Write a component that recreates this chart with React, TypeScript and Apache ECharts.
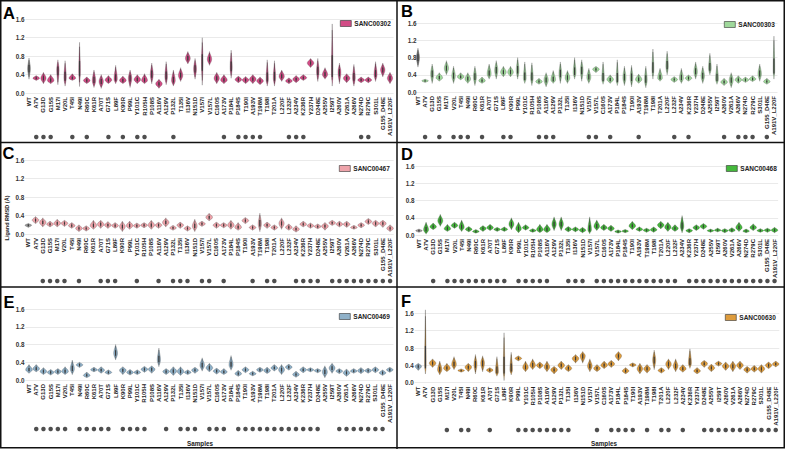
import React, { useEffect, useRef } from 'react';
import * as echarts from 'echarts';

const categories = ['WT','A7V','G13D','G15S','M17I','V20L','T45I','N49I','R60C','K61R','A70T','G71S','L89F','K90R','P99L','Y101C','R105H','P108S','A116V','A129V','P132L','T135I','I136V','N151D','V157I','V157L','C160S','A173V','P184L','P184S','T190I','A193V','T198M','T198I','T201A','L220F','L232F','A234V','K236R','Y237H','D248E','A255V','I259T','A260V','V261A','A266V','N274D','R279C','S301L','G155_D48E','A191V_L220F'];

const yTicks = [0, 0.4, 0.8, 1.2, 1.6];

// Panel A – SANC00302
const medA = [.53,.32,.32,.27,.50,.33,.32,.48,.27,.27,.25,.28,.30,.27,.32,.29,.27,.40,.20,.35,.27,.38,.75,.52,.65,.73,.32,.28,.55,.29,.28,.30,.26,.30,.33,.36,.26,.30,.33,.65,.47,.40,.45,.45,.32,.33,.28,.28,.40,.50,.32];
const loA = [.30,.27,.20,.20,.18,.15,.27,.14,.20,.12,.10,.20,.20,.20,.12,.20,.20,.20,.10,.18,.15,.25,.63,.30,.17,.60,.20,.20,.32,.22,.20,.20,.18,.15,.15,.25,.20,.22,.27,.55,.25,.30,.15,.20,.22,.15,.22,.22,.25,.35,.20];
const hiA = [.76,.38,.45,.40,.72,.70,.42,1.10,.35,.50,.40,.38,.60,.37,.50,.40,.42,.65,.30,.68,.50,.55,.90,.75,1.20,.90,.45,.40,.93,.37,.36,.40,.35,.72,.70,.50,.33,.38,.40,.75,.75,.55,1.50,.65,.42,.62,.35,.35,.68,.65,.45];
const dotsA = ['A7V','G13D','G15S','T45I','R60C','G71S','K90R','Y101C','R105H','P132L','A173V','P184S','T190I','A193V','T198M','L232F','A234V','K236R','N274D','R279C'];

// Panel B – SANC00303
const medB = [.80,.26,.42,.33,.55,.37,.35,.30,.35,.26,.42,.50,.46,.46,.50,.32,.33,.24,.28,.28,.42,.33,.45,.50,.34,.53,.30,.29,.28,.33,.33,.29,.28,.53,.32,.60,.29,.32,.32,.47,.37,.55,.30,.23,.28,.28,.28,.30,.42,.24,.50];
const loB = [.58,.22,.20,.25,.40,.20,.28,.20,.15,.20,.30,.30,.35,.35,.30,.20,.15,.18,.12,.20,.20,.20,.30,.25,.20,.45,.18,.20,.15,.15,.12,.20,.10,.30,.25,.40,.22,.20,.25,.30,.20,.40,.18,.15,.10,.20,.22,.24,.25,.18,.30];
const hiB = [1.02,.30,.65,.45,.73,.60,.45,.45,.60,.35,.65,.73,.60,.60,.80,.70,.68,.32,.45,.50,.70,.50,.80,.75,.55,.60,.70,.40,.75,.60,.62,.42,.60,1.00,.55,.95,.36,.55,.40,.70,.60,.90,.65,.32,.45,.38,.35,.38,.65,.32,1.30];
const dotsB = ['A7V','G15S','V20L','T45I','N49I','K61R','L89F','K90R','P108S','A116V','A129V','V157I','V157L','A173V','A193V','L232F','K236R','A260V','A266V','N274D','R279C','G155_D48E'];

// Panel C – SANC00467
const medC = [.19,.30,.25,.21,.23,.23,.18,.12,.12,.18,.21,.19,.18,.16,.18,.18,.19,.19,.19,.25,.13,.19,.12,.17,.22,.36,.19,.19,.19,.14,.29,.14,.22,.19,.14,.23,.14,.10,.21,.18,.16,.17,.24,.21,.21,.14,.19,.27,.23,.23,.12];
const loC = [.14,.22,.15,.15,.15,.16,.12,.05,.06,.10,.12,.12,.12,.05,.10,.12,.13,.10,.12,.15,.08,.12,.06,.05,.16,.28,.12,.13,.10,.08,.22,.08,.05,.12,.08,.10,.08,.04,.15,.12,.11,.08,.18,.15,.14,.10,.13,.20,.15,.14,.05];
const hiC = [.23,.38,.35,.28,.32,.30,.25,.20,.18,.30,.30,.27,.25,.28,.28,.24,.25,.30,.26,.35,.19,.26,.18,.32,.28,.45,.26,.25,.30,.25,.36,.20,.45,.26,.20,.35,.22,.18,.28,.24,.22,.25,.30,.28,.28,.19,.25,.34,.30,.30,.20];
const dotsC = ['G13D','G15S','M17I','V20L','N49I','A70T','G71S','L89F','Y101C','A116V','P132L','T135I','I136V','V157I','V157L','A173V','A193V','T198I','T201A','A234V','K236R','Y237H','D248E','I259T','A260V','V261A','A266V','N274D','R279C','S301L','G155_D48E','A191V_L220F'];

// Panel D – SANC00468
const medD = [.10,.12,.19,.33,.14,.22,.18,.13,.08,.15,.17,.13,.13,.25,.14,.17,.10,.12,.12,.25,.25,.13,.13,.11,.12,.20,.17,.15,.08,.09,.21,.13,.11,.12,.23,.18,.15,.20,.10,.17,.20,.10,.11,.10,.11,.17,.09,.17,.10,.11,.11];
const loD = [.06,.02,.12,.20,.08,.15,.08,.07,.04,.08,.10,.08,.08,.12,.05,.11,.06,.05,.05,.10,.10,.07,.07,.05,.03,.10,.10,.08,.04,.05,.12,.08,.06,.06,.14,.08,.08,.05,.05,.10,.13,.06,.07,.05,.06,.08,.05,.10,.06,.06,.05];
const hiD = [.14,.30,.28,.48,.25,.30,.35,.20,.13,.22,.25,.18,.19,.40,.30,.24,.15,.25,.25,.42,.42,.20,.19,.18,.42,.35,.25,.23,.12,.13,.32,.19,.16,.19,.32,.30,.24,.45,.15,.24,.27,.14,.16,.15,.17,.30,.14,.26,.15,.16,.18];
const dotsD = ['G13D','M17I','V20L','T45I','N49I','R60C','K61R','A70T','G71S','L89F','P99L','Y101C','R105H','P108S','A116V','T135I','I136V','N151D','V157L','C160S','A173V','P184L','P184S','T190I','A193V','T198M','T198I','T201A','L220F','L232F','K236R','Y237H','D248E','A255V','I259T','A260V','V261A','A266V','N274D','R279C','S301L','G155_D48E','A191V_L220F'];

// Panel E – SANC00469
const medE = [.23,.25,.19,.17,.19,.19,.25,.34,.10,.23,.22,.17,.60,.22,.17,.17,.24,.24,.45,.19,.20,.19,.17,.22,.33,.27,.20,.18,.34,.14,.23,.14,.23,.21,.27,.23,.29,.12,.23,.23,.21,.18,.27,.20,.16,.20,.21,.21,.23,.16,.23];
const loE = [.15,.18,.12,.11,.12,.12,.12,.28,.05,.18,.15,.12,.45,.12,.11,.12,.17,.15,.30,.12,.10,.10,.12,.15,.20,.18,.13,.12,.22,.08,.16,.09,.17,.14,.20,.12,.22,.06,.16,.18,.16,.05,.15,.14,.08,.15,.14,.15,.16,.10,.17];
const hiE = [.35,.35,.28,.24,.26,.30,.45,.40,.18,.29,.30,.23,.80,.30,.24,.23,.31,.32,.72,.26,.30,.30,.23,.29,.50,.38,.27,.26,.55,.22,.30,.20,.29,.29,.35,.35,.36,.20,.30,.28,.26,.32,.38,.26,.25,.26,.28,.27,.30,.23,.29];
const dotsE = ['A7V','G13D','G15S','M17I','V20L','N49I','R60C','K61R','A70T','G71S','K90R','P99L','Y101C','R105H','A129V','T135I','I136V','N151D','V157L','C160S','A173V','P184S','T190I','A193V','T198M','T198I','T201A','L220F','L232F','A234V','K236R','Y237H','D248E','A260V','V261A','A266V','N274D','R279C','S301L','G155_D48E'];

// Panel F – SANC00630
const medF = [.38,.40,.45,.30,.33,.42,.28,.36,.42,.45,.29,.25,.30,.30,.56,.35,.40,.40,.36,.30,.40,.33,.56,.62,.38,.33,.40,.43,.62,.27,.41,.32,.32,.52,.28,.43,.38,.32,.45,.27,.44,.34,.44,.38,.38,.40,.30,.32,.32,.40,.43];
const loF = [.28,.20,.35,.18,.25,.30,.24,.25,.20,.25,.23,.15,.05,.18,.50,.25,.30,.32,.25,.20,.30,.25,.45,.45,.25,.25,.32,.35,.50,.20,.36,.20,.22,.30,.22,.30,.25,.24,.33,.20,.35,.25,.38,.28,.25,.30,.22,.24,.22,.32,.36];
const hiF = [.45,1.68,.55,.50,.45,.60,.32,.45,.65,.62,.35,.60,1.15,.70,.62,.50,.55,.48,.50,.38,.50,.42,.65,.72,.55,.42,.50,.52,.72,.35,.46,.45,.42,.75,.35,.55,.55,.42,.78,.35,.52,.43,.50,.48,.50,.50,.38,.40,.42,.48,.50];
const dotsF = ['M17I','T45I','N49I','A70T','P99L','Y101C','R105H','P108S','A116V','A129V','P132L','T135I','V157L','A173V','P184L','P184S','T190I','T198M','T201A','L220F','A234V','D248E','A255V','I259T','A260V','V261A','A266V','N274D','R279C','S301L','G155_D48E','A191V_L220F'];

const FONT = '"Liberation Sans", Arial, sans-serif';

const panels = [
  { letter: 'A', name: 'SANC00302', color: '#d24c86', wt: '#8c8c8c', med: medA, lo: loA, hi: hiA, dots: dotsA, left: 25.4, width: 368.2, top: 19.3, height: 73.7, dotY: 137, legX: 340, legY: 24, letX: 3, letY: 4.5, tickMargin: 1 },
  { letter: 'B', name: 'SANC00303', color: '#9fd89b', wt: '#7d7d7d', med: medB, lo: loB, hi: hiB, dots: dotsB, left: 414.4, width: 363.1, top: 23.3, height: 68.7, dotY: 137, legX: 724, legY: 25, letX: 401, letY: 2.5, tickMargin: -2 },
  { letter: 'C', name: 'SANC00467', color: '#eea3aa', wt: '#9a9a9a', med: medC, lo: loC, hi: hiC, dots: dotsC, left: 24.7, width: 369, top: 160, height: 74, dotY: 281, legX: 339, legY: 169, letX: 2.6, letY: 144.5, tickMargin: 0.5 },
  { letter: 'D', name: 'SANC00468', color: '#45b83c', wt: '#a09a9a', med: medD, lo: loD, hi: hiD, dots: dotsD, left: 415.4, width: 362.7, top: 166, height: 69, dotY: 281, legX: 726, legY: 169, letX: 401, letY: 145, tickMargin: 1 },
  { letter: 'E', name: 'SANC00469', color: '#8fb1c9', wt: '#8fb1c9', med: medE, lo: loE, hi: hiE, dots: dotsE, left: 25.4, width: 368, top: 309, height: 71, dotY: 429, legX: 339, legY: 317, letX: 3.5, letY: 293, tickMargin: 1 },
  { letter: 'F', name: 'SANC00630', color: '#dd9b3c', wt: '#8ea9bd', med: medF, lo: loF, hi: hiF, dots: dotsF, left: 414.7, width: 364.6, top: 313.3, height: 69.4, dotY: 430, legX: 725, legY: 318, letX: 401, letY: 292.5, tickMargin: 1 },
];

function makeRender(color: string, wt: string) {
  return (params: any, api: any) => {
    const i = api.value(0);
    const med = api.value(1), lo = api.value(2), hi = api.value(3);
    const c = api.coord([i, med]);
    const yLo = api.coord([i, lo])[1];
    const yHi = api.coord([i, hi])[1];
    const band = api.size([1, 0])[0];
    const ext = Math.max(yLo - yHi, 1);
    const W = Math.max(0.8, Math.min(band * 0.46, 30 / ext));
    const N = 30;
    const right: number[][] = [];
    const left: number[][] = [];
    for (let k = 0; k <= N; k++) {
      const y = yHi + (yLo - yHi) * k / N;
      let t = y <= c[1] ? (y - yHi) / Math.max(c[1] - yHi, 0.5) : (yLo - y) / Math.max(yLo - c[1], 0.5);
      t = Math.min(1, Math.max(0, t));
      const w = W * Math.pow(Math.sin((Math.PI / 2) * t), 1.5);
      right.push([c[0] + w, y]);
      left.unshift([c[0] - w, y]);
    }
    const fill = i === 0 ? wt : color;
    const q1 = c[1] + (yLo - c[1]) * 0.35;
    const q3 = c[1] - (c[1] - yHi) * 0.35;
    return {
      type: 'group',
      children: [
        { type: 'polygon', shape: { points: right.concat(left) }, style: { fill, stroke: 'rgba(60,60,60,0.6)', lineWidth: 0.45 } },
        { type: 'line', shape: { x1: c[0], y1: yHi + (yLo - yHi) * 0.1, x2: c[0], y2: yLo - (yLo - yHi) * 0.1 }, style: { stroke: '#3a3a3a', lineWidth: 0.5 } },
        { type: 'rect', shape: { x: c[0] - 0.6, y: q3, width: 1.2, height: Math.max(q1 - q3, 0.8) }, style: { fill: '#3a3a3a' } },
      ],
    };
  };
}

export default function App() {
  const ref = useRef<HTMLDivElement>(null);
  useEffect(() => {
    document.body.style.margin = '0';
    const chart = echarts.init(ref.current!, null, { renderer: 'svg' });
    const grid: any[] = [];
    const xAxis: any[] = [];
    const yAxis: any[] = [];
    const series: any[] = [];
    const legend: any[] = [];
    const graphic: any[] = [];
    panels.forEach((p, k) => {
      grid.push({ left: p.left, top: p.top, width: p.width, height: p.height });
      grid.push({ left: p.left, top: p.dotY - 3, width: p.width, height: 6 });
      xAxis.push({
        type: 'category', gridIndex: 2 * k, data: categories,
        axisLine: { show: false }, axisTick: { show: false },
        axisLabel: { rotate: 90, interval: 0, fontSize: 6, fontWeight: 'bold', color: '#222', margin: 4, fontFamily: FONT },
      });
      xAxis.push({ type: 'category', gridIndex: 2 * k + 1, data: categories, show: false });
      yAxis.push({
        type: 'value', gridIndex: 2 * k, min: yTicks[0], max: yTicks[yTicks.length - 1], interval: 0.4,
        axisLine: { show: false }, axisTick: { show: false },
        axisLabel: { fontSize: 6.3, fontWeight: 'bold', color: '#333', margin: p.tickMargin, fontFamily: FONT, formatter: (v: number) => v.toFixed(1) },
        splitLine: { lineStyle: { color: '#e4e4e4', width: 0.8 } },
      });
      yAxis.push({ type: 'value', gridIndex: 2 * k + 1, min: 0, max: 1, show: false });
      series.push({
        type: 'custom', name: p.name, xAxisIndex: 2 * k, yAxisIndex: 2 * k,
        itemStyle: { color: p.color },
        renderItem: makeRender(p.color, p.wt),
        encode: { x: 0, y: [1, 2, 3] },
        data: categories.map((c, i) => [i, p.med[i], p.lo[i], p.hi[i]]),
        clip: false,
      });
      series.push({
        type: 'scatter', xAxisIndex: 2 * k + 1, yAxisIndex: 2 * k + 1,
        symbolSize: 4.5, itemStyle: { color: '#222' },
        data: p.dots.map((d) => [d, 0.5]),
      });
      legend.push({
        left: p.legX, top: p.legY - 4, padding: 0, itemWidth: 11, itemHeight: 6, icon: 'rect',
        data: [p.name], selectedMode: false,
        itemStyle: { borderColor: '#333', borderWidth: 0.6 },
        textStyle: { fontSize: 6.5, fontWeight: 'bold', color: '#222', fontFamily: FONT, padding: [0, 0, 0, -2] },
      });
      graphic.push({ type: 'text', left: p.letX, top: p.letY, style: { text: p.letter, fontSize: 16.5, lineHeight: 11.5, fontWeight: 'bold', fill: '#000', fontFamily: FONT } });
    });
    graphic.push({ type: 'rect', shape: { x: 0.75, y: 0.75, width: 783.5, height: 447 }, style: { fill: 'none', stroke: '#111', lineWidth: 1.5 } });
    graphic.push({ type: 'line', shape: { x1: 0, y1: 142.5, x2: 785, y2: 142.5 }, style: { stroke: '#111', lineWidth: 1.5 } });
    graphic.push({ type: 'line', shape: { x1: 0, y1: 287, x2: 785, y2: 287 }, style: { stroke: '#111', lineWidth: 1.5 } });
    graphic.push({ type: 'line', shape: { x1: 397, y1: 0, x2: 397, y2: 449 }, style: { stroke: '#111', lineWidth: 1.5 } });
    graphic.push({ type: 'text', x: 7, y: 218, rotation: Math.PI / 2, style: { text: 'Ligand RMSD (Å)', fontSize: 5.5, fontWeight: 'bold', fill: '#222', fontFamily: FONT, align: 'center', verticalAlign: 'middle' } });
    graphic.push({ type: 'text', x: 200, y: 443, style: { text: 'Samples', fontSize: 6.3, fontWeight: 'bold', fill: '#222', fontFamily: FONT, align: 'center', verticalAlign: 'middle' } });
    graphic.push({ type: 'text', x: 604, y: 443, style: { text: 'Samples', fontSize: 6.3, fontWeight: 'bold', fill: '#222', fontFamily: FONT, align: 'center', verticalAlign: 'middle' } });

    chart.setOption({ animation: false, backgroundColor: '#fff', grid, xAxis, yAxis, series, legend, graphic });
    return () => chart.dispose();
  }, []);
  return <div ref={ref} style={{ width: 785, height: 449 }} />;
}
